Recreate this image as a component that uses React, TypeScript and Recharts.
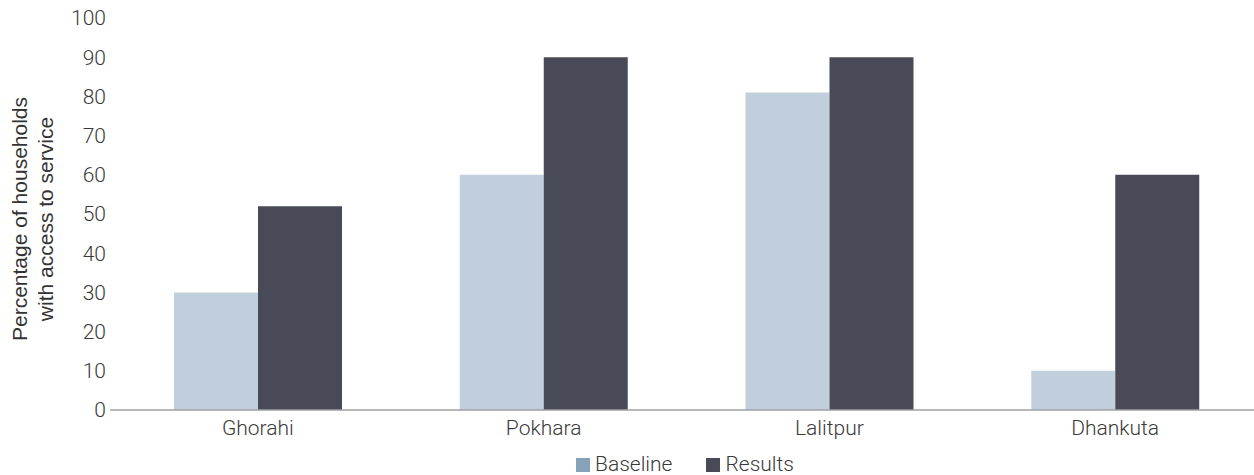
import React from 'react';
import { BarChart, Bar, XAxis, YAxis } from 'recharts';

const cities = ['Ghorahi', 'Pokhara', 'Lalitpur', 'Dhankuta'];
const baseline = [30, 60, 81, 10];
const results = [52, 90, 90, 60];
const yTicks = [0, 10, 20, 30, 40, 50, 60, 70, 80, 90, 100];

const seriesNames = ['Baseline', 'Results'];
const barColors = ['#c0cfdb', '#484a58'];
const legendColors = ['#87a3ba', '#484a58'];

const data = cities.map((city, i) => ({
  city,
  baseline: baseline[i],
  results: results[i],
}));

const FONT = 'Roboto, "Noto Sans", sans-serif';
const TEXT = '#3a3a3a';

// two-line rotated axis title (set in an Arial-like face in the original)
const YTitle = () => (
  <text
    transform="translate(27, 219) rotate(-90)"
    textAnchor="middle"
    fill="#333"
    fontFamily='"Liberation Sans", Arial, sans-serif'
    fontSize={21}
  >
    <tspan x={0} dy={0}>Percentage of households</tspan>
    <tspan x={0} dy={26}>with access to service</tspan>
  </text>
);

export default function App() {
  return (
    <div
      style={{
        position: 'absolute',
        left: 0,
        top: 0,
        width: 1254,
        height: 475,
        overflow: 'hidden',
        background: '#fff',
        fontFamily: FONT,
      }}
    >
      <BarChart
        width={1258}
        height={475}
        data={data}
        margin={{ top: 18, right: 0, left: 0, bottom: 35 }}
        barGap={0}
        barSize={84}
      >
        <XAxis
          dataKey="city"
          padding={{ left: 5, right: 0 }}
          tickLine={false}
          tickMargin={4}
          axisLine={{ stroke: '#a0a0a0', strokeWidth: 1.5 }}
          tick={{ fill: TEXT, fontSize: 21, fontWeight: 300, fontFamily: FONT }}
          height={30}
        />
        <YAxis
          width={110}
          domain={[0, 100]}
          ticks={yTicks}
          interval={0}
          tickLine={false}
          tickSize={0}
          tickMargin={4}
          axisLine={false}
          tick={{ fill: TEXT, fontSize: 21, fontWeight: 300, fontFamily: FONT }}
        />
        <Bar dataKey="baseline" name={seriesNames[0]} fill={barColors[0]} isAnimationActive={false} />
        <Bar dataKey="results" name={seriesNames[1]} fill={barColors[1]} isAnimationActive={false} />
        <YTitle />
      </BarChart>
      <div
        style={{
          position: 'absolute',
          left: 576,
          top: 452,
          display: 'flex',
          alignItems: 'center',
          fontSize: 21,
          fontWeight: 300,
          color: TEXT,
          lineHeight: '24px',
        }}
      >
        {seriesNames.map((name, i) => (
          <div key={name} style={{ display: 'flex', alignItems: 'center', marginRight: i === 0 ? 34 : 0 }}>
            <span
              style={{
                display: 'inline-block',
                width: 14,
                height: 14,
                background: legendColors[i],
                marginRight: 5,
                marginTop: 2,
              }}
            />
            <span>{name}</span>
          </div>
        ))}
      </div>
    </div>
  );
}
